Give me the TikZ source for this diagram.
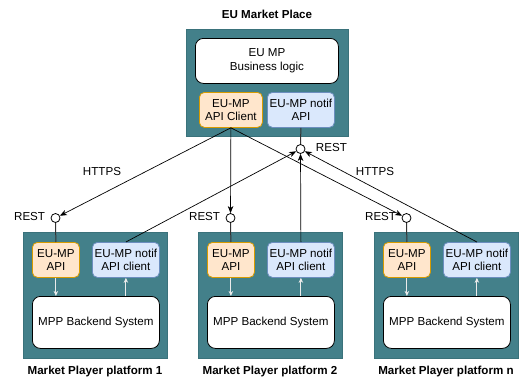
\documentclass[tikz,border=0pt]{standalone}
\usepackage{fontspec}
\setmainfont{Liberation Sans}
\usetikzlibrary{arrows.meta,calc}
\definecolor{teal1}{HTML}{43808A}
\definecolor{tealb}{HTML}{3A727B}
\definecolor{orf}{HTML}{FFE6CC}
\definecolor{ord}{HTML}{D79B00}
\definecolor{blf}{HTML}{DAE8FC}
\definecolor{bld}{HTML}{6C8EBF}
\begin{document}
\begin{tikzpicture}[x=1pt,y=-1pt,
  every node/.style={font=\fontsize{11.6}{13.5}\selectfont},
  container/.style={draw=tealb,fill=teal1,anchor=north west,inner sep=0},
  whitebox/.style={draw=black,fill=white,rounded corners=8pt,anchor=north west,inner sep=0,align=center,line width=0.8pt},
  orangebox/.style={draw=ord,fill=orf,rounded corners=5pt,anchor=north west,inner sep=0,align=center,line width=0.8pt},
  bluebox/.style={draw=bld,fill=blf,rounded corners=5pt,anchor=north west,inner sep=0,align=center,line width=0.8pt},
  lolli/.style={circle,draw=black,fill=white,minimum size=9pt,inner sep=0,line width=0.8pt},
  title/.style={font=\fontsize{11.6}{13.5}\selectfont\bfseries},
  arr/.style={draw=black,line width=0.7pt,-{Stealth[length=7pt,width=5.5pt,inset=2pt]}},
  stem/.style={draw=black!80,line width=1pt},
  warr/.style={draw=white!92!black,line width=1pt,-{Stealth[length=5pt,width=4.5pt,inset=1.5pt]}}]
\useasboundingbox (0,0) rectangle (520,378);
% EU Market Place
\node[title] (eutitle) at (267,14) {EU Market Place};
\node[container,minimum width=162pt,minimum height=107pt] (eubox) at (186,29) {};
\node[whitebox,minimum width=143pt,minimum height=45pt] (biz) at (195,38) {EU MP\\Business logic};
\node[orangebox,minimum width=63pt,minimum height=35pt] (client) at (199,92) {EU-MP\\API Client};
\node[bluebox,minimum width=67pt,minimum height=35pt] (notifapi) at (267,92) {EU-MP notif\\API};
\node[lolli] (ctop) at (300.5,149) {};
\node[anchor=west] (resttop) at ($(ctop.east)+(7,-1)$) {REST};
\draw[stem] (notifapi.south) -- (ctop.north);
% platforms
\foreach \n/\x in {1/23,2/198,n/374}{
  \node[container,minimum width=144pt,minimum height=126pt] (plat\n) at (\x,232) {};
  \node[orangebox,minimum width=47pt,minimum height=35pt] (api\n) at (\x+9,242) {EU-MP\\API};
  \node[bluebox,minimum width=67pt,minimum height=35pt] (notif\n) at (\x+69,242) {EU-MP notif\\API client};
  \node[whitebox,minimum width=127pt,minimum height=52pt] (back\n) at (\x+9,296) {MPP Backend System};
  \node[title] (ptitle\n) at (\x+72,371) {Market Player platform \n};
  \node[lolli] (c\n) at (\x+32.5,218) {};
  \node[anchor=east] (rest\n) at ($(c\n.west)+(-2,-1)$) {REST};
  \draw[stem] (c\n.south) -- (api\n.north);
  \draw[warr] (api\n.south) -- (api\n.south |- back\n.north);
  \draw[warr] (notif\n.south |- back\n.north) -- (notif\n.south);
}
% connectors
\draw[arr] (client.south) -- (c1);
\draw[arr] (client.south) -- (c2);
\draw[arr] (client.south) -- (cn);
\draw[arr] (notif1.north) -- (ctop);
\draw[arr] (notif2.north) -- (ctop);
\draw[arr] (notifn.north) -- (ctop);
\node (https1) at (102,172) {HTTPS};
\node (https2) at (375,172) {HTTPS};
\end{tikzpicture}
\end{document}
